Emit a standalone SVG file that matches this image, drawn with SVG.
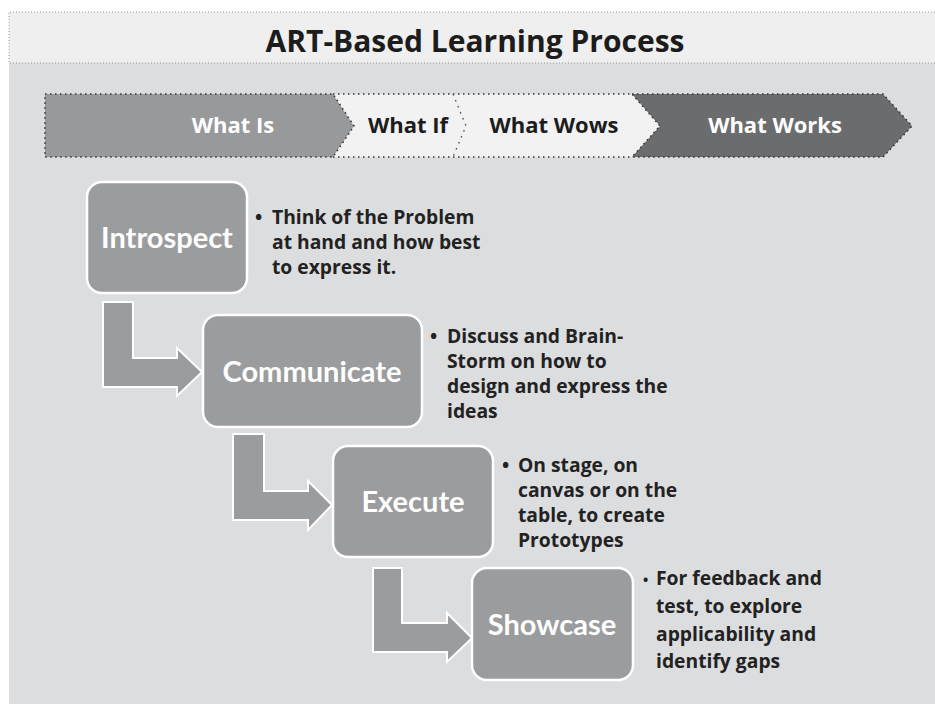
<svg xmlns="http://www.w3.org/2000/svg" width="935" height="704" viewBox="0 0 935 704">
<style>
.title{font-family:"Open Sans","Liberation Sans",sans-serif;font-weight:bold;font-size:30px;fill:#1c1c1c;text-anchor:middle}
.chev{font-family:"Open Sans","Liberation Sans",sans-serif;font-weight:bold;font-size:22px;text-anchor:middle}
.node rect{fill:#9b9c9e;stroke:#ffffff;stroke-width:2.5}
.node text{font-family:Lato,"Liberation Sans",sans-serif;font-weight:bold;font-size:29px;fill:#ffffff;text-anchor:middle}
.desc{font-family:"Open Sans","Liberation Sans",sans-serif;font-weight:bold;font-size:19.3px;fill:#222222}
.arrow{fill:#9b9c9e;stroke:#ffffff;stroke-width:2}
.dots{fill:none;stroke:#333333;stroke-width:1.6;stroke-dasharray:1.5 3.5}
</style>
<rect x="0" y="0" width="935" height="704" fill="#ffffff"/>
<rect x="9" y="63" width="926" height="641" fill="#dcdddf"/>
<rect x="9" y="12" width="926" height="51" fill="#efefef"/>
<path d="M935,12 H9 V63 H935" fill="none" stroke="#9a9a9a" stroke-width="1" stroke-dasharray="1 2"/>
<text class="title" x="475" y="52">ART-Based Learning Process</text>

<g id="phases">
<polygon points="45,94 333,94 354,126 333,157 45,157" fill="#98999b"/>
<polygon points="333,94 453,94 466,126 453,157 333,157 354,126" fill="#f2f2f2"/>
<polygon points="453,94 632,94 660,126 632,157 453,157 466,126" fill="#f2f2f2"/>
<polygon points="632,94 883,94 912,126 883,157 632,157 660,126" fill="#6b6c6e"/>
<polygon class="dots" points="45,94 333,94 354,126 333,157 45,157"/>
<path class="dots" d="M333,94 H632 M333,157 H632"/>
<polyline points="453,94 466,126 453,157" fill="none" stroke="#555" stroke-width="1.4" stroke-dasharray="1.5 5"/>
<polygon class="dots" points="632,94 883,94 912,126 883,157 632,157 660,126"/>
<text class="chev" x="233" y="133" fill="#ffffff">What Is</text>
<text class="chev" x="408" y="133" fill="#1c1c1c">What If</text>
<text class="chev" x="554" y="133" fill="#1c1c1c">What Wows</text>
<text class="chev" x="775" y="133" fill="#ffffff">What Works</text>
</g>

<g id="connectors">
<path class="arrow" d="M103,302 H133 V358 H177 V348 L202,372 L177,396 V387 H103 Z"/>
<path class="arrow" d="M233,434 H264 V491 H308 V481 L332,505 L308,530 V520 H233 Z"/>
<path class="arrow" d="M373,568 H402 V623 H447 V613 L472,638 L447,662 V652 H373 Z"/>
</g>

<g id="introspect" class="node">
<rect x="87" y="182" width="160" height="111" rx="15"/>
<text x="167" y="248">Introspect</text>
</g>
<g id="communicate" class="node">
<rect x="203" y="315" width="219" height="112" rx="15"/>
<text x="312" y="382">Communicate</text>
</g>
<g id="execute" class="node">
<rect x="333" y="446" width="160" height="111" rx="15"/>
<text x="413" y="512">Execute</text>
</g>
<g id="showcase" class="node">
<rect x="472" y="568" width="161" height="112" rx="15"/>
<text x="552" y="635">Showcase</text>
</g>

<g id="introspect-note" class="desc">
<text x="255" y="224">•</text>
<text x="272" y="224">Think of the Problem</text>
<text x="272" y="249">at hand and how best</text>
<text x="272" y="274">to express it.</text>
</g>
<g id="communicate-note" class="desc">
<text x="430" y="343">•</text>
<text x="447" y="343">Discuss and Brain-</text>
<text x="447" y="368">Storm on how to</text>
<text x="447" y="393">design and express the</text>
<text x="447" y="418">ideas</text>
</g>
<g id="execute-note" class="desc">
<text x="502" y="472">•</text>
<text x="518" y="472">On stage, on</text>
<text x="518" y="497">canvas or on the</text>
<text x="518" y="522">table, to create</text>
<text x="518" y="547">Prototypes</text>
</g>
<g id="showcase-note" class="desc">
<text x="643" y="585" font-size="14">•</text>
<text x="656" y="585">For feedback and</text>
<text x="656" y="613">test, to explore</text>
<text x="656" y="641">applicability and</text>
<text x="656" y="668">identify gaps</text>
</g>
</svg>
